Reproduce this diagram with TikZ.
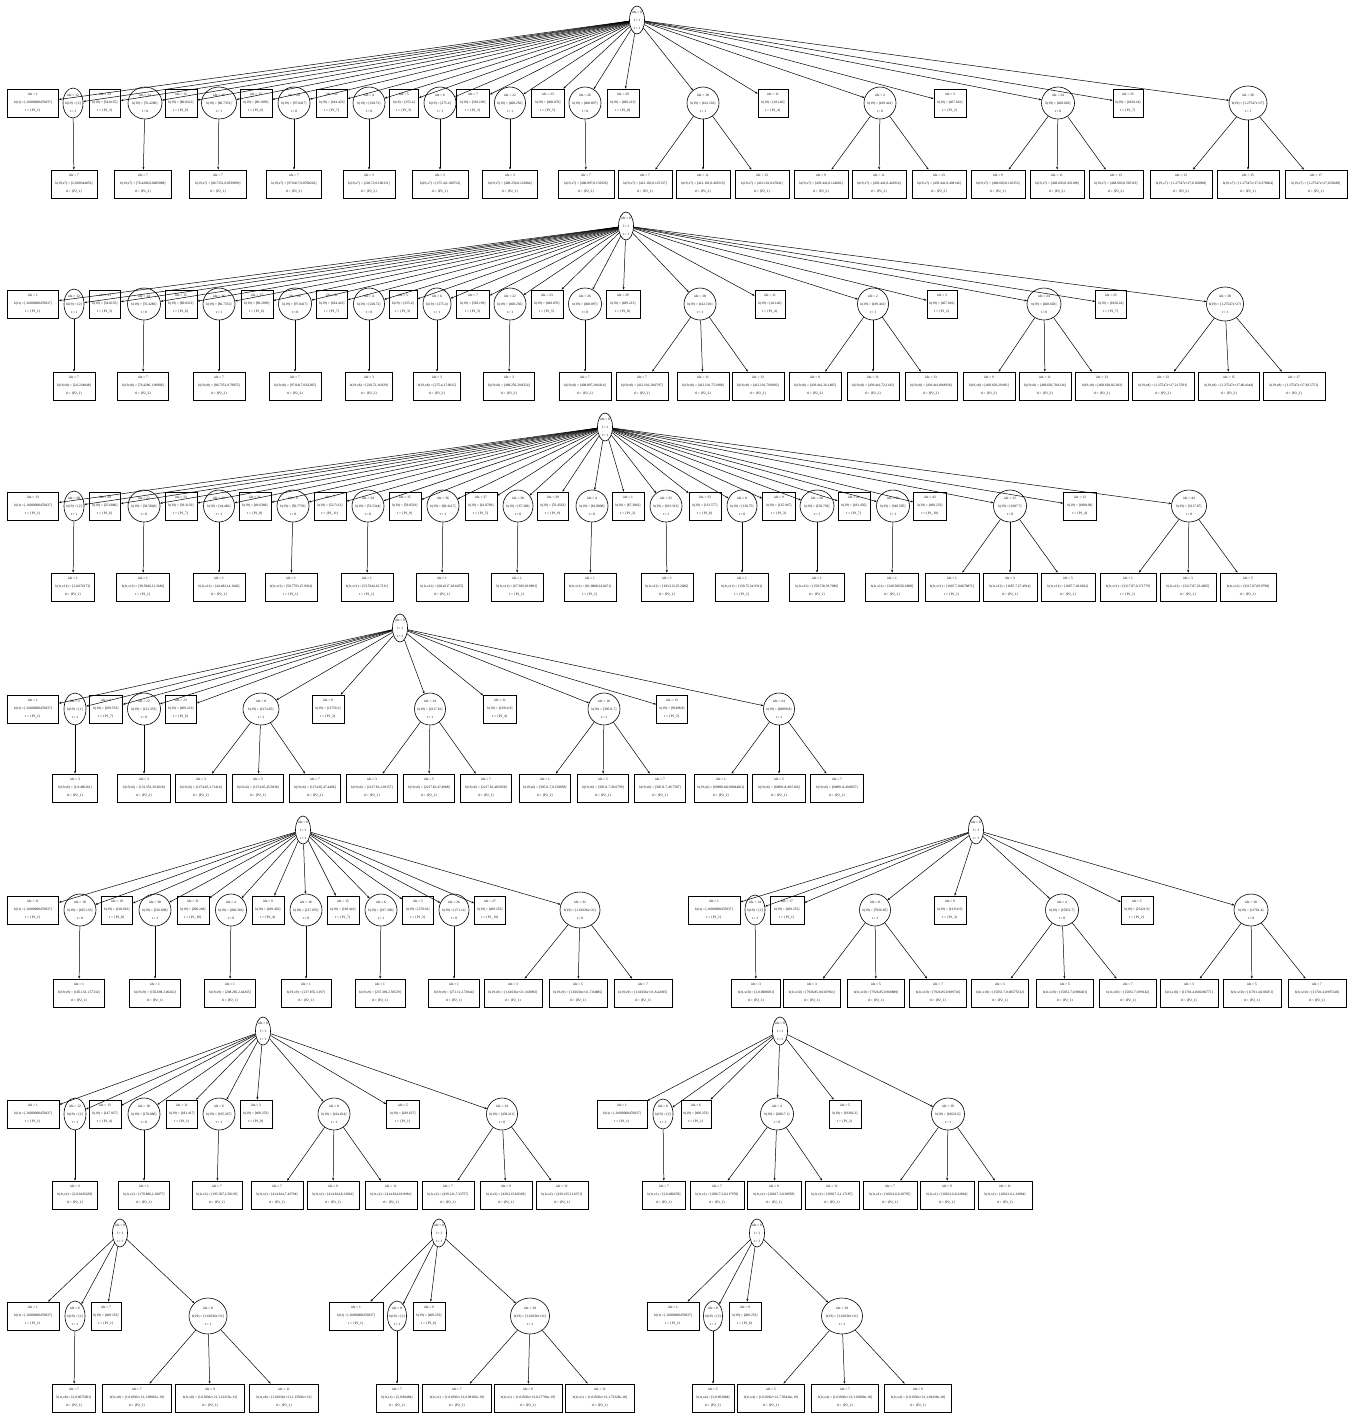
\documentclass[tikz,border=0pt]{standalone}
\usepackage{fontspec}
\setmainfont{Liberation Serif}
\usetikzlibrary{shapes.geometric,arrows.meta}
\tikzset{
 bx/.style={draw,line width=0.8pt,rectangle,inner sep=0pt,minimum height=28,align=center,font=\fontsize{3.5}{8}\selectfont},
 el/.style={draw,line width=0.6pt,ellipse,inner sep=0pt,align=center,font=\fontsize{3.5}{8}\selectfont},
 edg/.style={line width=0.5pt,-{Stealth[length=2.6pt,width=2pt]}},
}
\newcommand\zl[1]{\makebox[0pt]{#1}}
\newcommand\myb[1]{b(19) = [#1]}
\newcommand\myP[1]{t = \{P1\_#1\}}
\newcommand\myQ[1]{tl = \{P2\_#1\}}
\newcommand\RB[7]{\node[bx,minimum width=#4] (#1) at (#3,\ry) {\zl{idx = #5}\\\zl{#6}\\\zl{#7}};\draw[edg] (#2) -- (#1);}
\newcommand\RE[8]{\node[el,minimum width=#4,minimum height=#5] (#1) at (#3,\ry) {\zl{idx = #6}\\\zl{#7}\\\zl{#8}};\draw[edg] (#2) -- (#1);}
\newcommand\LF[7]{\node[bx,minimum width=#4] (#1) at (#3,\ly) {\zl{idx = #5}\\\zl{#6}\\\zl{#7}};\draw[edg] (#2) -- (#1);}
\newcommand\RT[3]{\node[el,minimum width=15,minimum height=28] (#1) at (#2,#3) {\zl{idx = 0}\\\zl{l = 1}\\\zl{t = 1}};}
\newcommand\mfirst{b(1t) = [-0.000000476837]}
\begin{document}
\begin{tikzpicture}[x=1pt,y=-1pt]
\fill[white] (0,0) rectangle (1356,1414);
\useasboundingbox (0,0) rectangle (1356,1414);
% ---------------- Tree 1
\def\ry{103}\def\ly{184}
\RT{ar}{637}{20}
\RB{a1}{ar}{33}{51}{1}{\mfirst}{\myP{1}}
\RE{a2}{ar}{73}{20}{30}{12}{\myb{2}}{t = 1}
\RB{a3}{ar}{105}{31}{13}{\myb{54.8155}}{\myP{3}}
\RE{a4}{ar}{145}{34}{32}{14}{\myb{76.4286}}{t = 0}
\RB{a5}{ar}{181}{32}{15}{\myb{80.8321}}{\myP{6}}
\RE{a6}{ar}{219}{35}{32}{16}{\myb{86.7351}}{t = 1}
\RB{a7}{ar}{256}{32}{17}{\myb{89.2099}}{\myP{6}}
\RE{a8}{ar}{294}{32}{32}{20}{\myb{97.0417}}{t = 0}
\RB{a9}{ar}{332}{31}{21}{\myb{184.423}}{\myP{7}}
\RE{a10}{ar}{369}{32}{32}{4}{\myb{220.72}}{t = 0}
\RB{a11}{ar}{404}{29}{5}{\myb{255.4}}{\myP{3}}
\RE{a12}{ar}{440}{32}{32}{6}{\myb{275.4}}{t = 1}
\RB{a13}{ar}{473}{33}{7}{\myb{330.199}}{\myP{3}}
\RE{a14}{ar}{510}{31}{32}{22}{\myb{408.256}}{t = 1}
\RB{a15}{ar}{548}{33}{23}{\myb{408.876}}{\myP{5}}
\RE{a16}{ar}{585}{32}{32}{26}{\myb{408.897}}{t = 0}
\RB{a17}{ar}{623}{32}{29}{\myb{409.213}}{\myP{8}}
\RE{a18}{ar}{703}{32}{32}{18}{\myb{412.101}}{t = 1}
\RB{a19}{ar}{773}{30}{11}{\myb{421.46}}{\myP{4}}
\RE{a20}{ar}{880}{32}{32}{2}{\myb{439.441}}{t = 0}
\RB{a21}{ar}{950}{32}{3}{\myb{467.601}}{\myP{2}}
\RE{a22}{ar}{1058}{33}{32}{24}{\myb{468.603}}{t = 0}
\RB{a23}{ar}{1128}{30}{25}{\myb{1820.24}}{\myP{7}}
\RE{a24}{ar}{1248}{38}{34}{30}{\myb{1.27547e+27}}{t = 1}
\LF{a2x}{a2}{74}{46}{7}{b(19,x7) = [2,0.00344853]}{\myQ{1}}
\LF{a4x}{a4}{143}{57}{7}{b(19,x7) = [76.4286,0.0485088]}{\myQ{2}}
\LF{a6x}{a6}{218}{57}{7}{b(19,x7) = [86.7351,0.0539893]}{\myQ{1}}
\LF{a8x}{a8}{294}{55}{7}{b(19,x7) = [97.0417,0.0708262]}{\myQ{2}}
\LF{a10x}{a10}{369}{52}{3}{b(19,x7) = [220.72,0.100151]}{\myQ{2}}
\LF{a12x}{a12}{440}{56}{3}{b(19,x7) = [275.4,0.100754]}{\myQ{1}}
\LF{a14x}{a14}{510}{55}{3}{b(19,x7) = [408.256,0.122884]}{\myQ{1}}
\LF{a16x}{a16}{586}{56}{7}{b(19,x7) = [408.897,0.132926]}{\myQ{2}}
\LF{a18x}{a18}{645}{54}{7}{b(19,x7) = [412.101,0.125137]}{\myQ{1}}
\LF{a18y}{a18}{703}{54}{11}{b(19,x7) = [412.101,0.463519]}{\myQ{2}}
\LF{a18z}{a18}{762}{54}{13}{b(19,x7) = [412.101,0.47841]}{\myQ{1}}
\LF{a20x}{a20}{821}{54}{9}{b(19,x7) = [439.441,0.124682]}{\myQ{2}}
\LF{a20y}{a20}{879}{54}{11}{b(19,x7) = [439.441,0.442914]}{\myQ{2}}
\LF{a20z}{a20}{939}{54}{13}{b(19,x7) = [439.441,0.498146]}{\myQ{2}}
\LF{a22x}{a22}{998}{54}{9}{b(19,x7) = [468.603,0.126353]}{\myQ{1}}
\LF{a22y}{a22}{1057}{54}{11}{b(19,x7) = [468.603,0.433188]}{\myQ{2}}
\LF{a22z}{a22}{1116}{54}{13}{b(19,x7) = [468.603,0.505119]}{\myQ{2}}
\LF{a24x}{a24}{1181}{62}{13}{b(19,x7) = [1.27547e+27,0.168968]}{\myQ{2}}
\LF{a24y}{a24}{1248}{62}{15}{b(19,x7) = [1.27547e+27,0.378664]}{\myQ{1}}
\LF{a24z}{a24}{1316}{62}{17}{b(19,x7) = [1.27547e+27,0.58188]}{\myQ{1}}
% ---------------- Tree 2
\def\ry{304}\def\ly{386}
\RT{br}{626}{226}
\RB{b1}{br}{33}{51}{1}{\mfirst}{\myP{1}}
\RE{b2}{br}{74}{20}{30}{12}{\myb{2}}{t = 1}
\RB{b3}{br}{105}{31}{13}{\myb{54.8155}}{\myP{3}}
\RE{b4}{br}{144}{33}{32}{14}{\myb{76.4286}}{t = 0}
\RB{b5}{br}{181}{32}{15}{\myb{80.8321}}{\myP{6}}
\RE{b6}{br}{219}{32}{32}{16}{\myb{86.7351}}{t = 1}
\RB{b7}{br}{257}{32}{17}{\myb{89.2099}}{\myP{6}}
\RE{b8}{br}{295}{33}{32}{20}{\myb{97.0417}}{t = 0}
\RB{b9}{br}{332}{31}{21}{\myb{184.423}}{\myP{7}}
\RE{b10}{br}{369}{31}{32}{4}{\myb{220.72}}{t = 0}
\RB{b11}{br}{403}{28}{5}{\myb{255.4}}{\myP{3}}
\RE{b12}{br}{437}{28}{32}{6}{\myb{275.4}}{t = 1}
\RB{b13}{br}{473}{33}{7}{\myb{330.199}}{\myP{3}}
\RE{b14}{br}{510}{32}{32}{22}{\myb{408.256}}{t = 1}
\RB{b15}{br}{547}{32}{23}{\myb{408.876}}{\myP{5}}
\RE{b16}{br}{585}{33}{32}{26}{\myb{408.897}}{t = 0}
\RB{b17}{br}{623}{34}{29}{\myb{409.213}}{\myP{8}}
\RE{b18}{br}{700}{32}{32}{18}{\myb{412.101}}{t = 1}
\RB{b19}{br}{770}{30}{11}{\myb{421.46}}{\myP{4}}
\RE{b20}{br}{873}{31}{32}{2}{\myb{439.441}}{t = 1}
\RB{b21}{br}{942}{30}{3}{\myb{467.601}}{\myP{2}}
\RE{b22}{br}{1044}{34}{32}{24}{\myb{468.603}}{t = 0}
\RB{b23}{br}{1111}{31}{25}{\myb{1820.24}}{\myP{7}}
\RE{b24}{br}{1225}{37}{34}{30}{\myb{1.27547e+27}}{t = 1}
\LF{b2x}{b2}{74}{42}{7}{b(19,x8) = [2,0.234848]}{\myQ{2}}
\LF{b4x}{b4}{143}{51}{7}{b(19,x8) = [76.4286,1.90906]}{\myQ{2}}
\LF{b6x}{b6}{219}{52}{7}{b(19,x8) = [86.7351,0.79855]}{\myQ{2}}
\LF{b8x}{b8}{295}{52}{7}{b(19,x8) = [97.0417,0.62285]}{\myQ{2}}
\LF{b10x}{b10}{369}{47}{3}{b(19,x8) = [220.72,16.829]}{\myQ{2}}
\LF{b12x}{b12}{437}{47}{3}{b(19,x8) = [275.4,17.0015]}{\myQ{2}}
\LF{b14x}{b14}{509}{51}{3}{b(19,x8) = [408.256,29.8354]}{\myQ{2}}
\LF{b16x}{b16}{585}{52}{7}{b(19,x8) = [408.897,28.0414]}{\myQ{2}}
\LF{b18x}{b18}{642}{52}{7}{b(19,x8) = [412.101,20.0797]}{\myQ{2}}
\LF{b18y}{b18}{703}{52}{11}{b(19,x8) = [412.101,75.2988]}{\myQ{2}}
\LF{b18z}{b18}{758}{52}{13}{b(19,x8) = [412.101,79.0082]}{\myQ{2}}
\LF{b20x}{b20}{815}{52}{9}{b(19,x8) = [439.441,26.1485]}{\myQ{2}}
\LF{b20y}{b20}{873}{52}{11}{b(19,x8) = [439.441,72.2143]}{\myQ{2}}
\LF{b20z}{b20}{931}{52}{13}{b(19,x8) = [439.441,80.8934]}{\myQ{2}}
\LF{b22x}{b22}{989}{52}{9}{b(19,x8) = [468.603,29.001]}{\myQ{2}}
\LF{b22y}{b22}{1045}{52}{11}{b(19,x8) = [468.603,70.8134]}{\myQ{2}}
\LF{b22z}{b22}{1102}{53}{13}{b(19,x8) = [468.603,82.383]}{\myQ{2}}
\LF{b24x}{b24}{1163}{62}{13}{b(19,x8) = [1.27547e+27,21.5591]}{\myQ{2}}
\LF{b24y}{b24}{1229}{61}{15}{b(19,x8) = [1.27547e+27,80.4344]}{\myQ{2}}
\LF{b24z}{b24}{1294}{62}{17}{b(19,x8) = [1.27547e+27,83.5751]}{\myQ{2}}
% ---------------- Tree 3
\def\ry{506}\def\ly{587}
\RT{cr}{605}{427}
\RB{c1}{cr}{33}{51}{13}{\mfirst}{\myP{1}}
\RE{c2}{cr}{74}{20}{30}{28}{\myb{2}}{t = 1}
\RB{c3}{cr}{105}{31}{29}{\myb{25.6886}}{\myP{6}}
\RE{c4}{cr}{144}{32}{32}{22}{\myb{38.5848}}{t = 0}
\RB{c5}{cr}{181}{32}{23}{\myb{39.3132}}{\myP{7}}
\RE{c6}{cr}{219}{31}{32}{30}{\myb{44.482}}{t = 1}
\RB{c7}{cr}{255}{32}{31}{\myb{49.6368}}{\myP{8}}
\RE{c8}{cr}{293}{32}{32}{6}{\myb{50.7793}}{t = 0}
\RB{c9}{cr}{330}{32}{7}{\myb{52.7112}}{\myP{11}}
\RE{c10}{cr}{368}{32}{32}{34}{\myb{53.5344}}{t = 0}
\RB{c11}{cr}{405}{32}{35}{\myb{59.0519}}{\myP{9}}
\RE{c12}{cr}{443}{32}{32}{36}{\myb{60.4217}}{t = 1}
\RB{c13}{cr}{481}{32}{37}{\myb{61.0769}}{\myP{5}}
\RE{c14}{cr}{518}{30}{32}{38}{\myb{67.309}}{t = 0}
\RB{c15}{cr}{553}{31}{39}{\myb{76.4563}}{\myP{9}}
\RE{c16}{cr}{592}{32}{32}{4}{\myb{81.0808}}{t = 0}
\RB{c17}{cr}{628}{32}{1}{\myb{87.3062}}{\myP{2}}
\RE{c18}{cr}{666}{32}{32}{32}{\myb{103.313}}{t = 1}
\RB{c19}{cr}{705}{32}{33}{\myb{113.577}}{\myP{8}}
\RE{c20}{cr}{742}{30}{32}{8}{\myb{130.75}}{t = 0}
\RB{c21}{cr}{779}{33}{9}{\myb{135.947}}{\myP{3}}
\RE{c22}{cr}{817}{34}{32}{20}{\myb{158.738}}{t = 1}
\RB{c23}{cr}{854}{32}{21}{\myb{181.456}}{\myP{7}}
\RE{c24}{cr}{893}{33}{32}{42}{\myb{349.505}}{t = 1}
\RB{c25}{cr}{930}{33}{43}{\myb{409.253}}{\myP{10}}
\RE{c26}{cr}{1010}{33}{32}{12}{\myb{1687.7}}{t = 0}
\RB{c27}{cr}{1080}{33}{13}{\myb{1808.98}}{\myP{4}}
\RE{c28}{cr}{1189}{35}{32}{44}{\myb{3217.87}}{t = 0}
\LF{c2x}{c2}{73}{43}{1}{b(1t,x11) = [2,0.676173]}{\myQ{1}}
\LF{c4x}{c4}{143}{53}{1}{b(1t,x11) = [38.5846,11.3186]}{\myP{1}}
\LF{c6x}{c6}{219}{52}{1}{b(1t,x12) = [44.482,14.1646]}{\myQ{1}}
\LF{c8x}{c8}{291}{52}{1}{b(1t,x11) = [50.7793,15.9364]}{\myP{1}}
\LF{c10x}{c10}{367}{52}{1}{b(1t,x11) = [53.5344,16.7111]}{\myP{1}}
\LF{c12x}{c12}{442}{52}{1}{b(1t,x12) = [60.4217,18.6455]}{\myQ{1}}
\LF{c14x}{c14}{517}{52}{1}{b(1t,x11) = [67.309,20.9891]}{\myP{1}}
\LF{c16x}{c16}{590}{52}{1}{b(1t,x11) = [81.0808,24.0471]}{\myP{1}}
\LF{c18x}{c18}{667}{52}{1}{b(1t,x12) = [103.313,25.2686]}{\myQ{1}}
\LF{c20x}{c20}{742}{53}{1}{b(1t,x11) = [130.75,34.9311]}{\myP{1}}
\LF{c22x}{c22}{817}{55}{1}{b(1t,x12) = [158.738,39.7086]}{\myQ{1}}
\LF{c24x}{c24}{892}{53}{1}{b(1t,x11) = [349.509,56.6808]}{\myQ{1}}
\LF{c26x}{c26}{952}{54}{1}{b(1t,x11) = [1687.7,0.0678871]}{\myP{1}}
\LF{c26y}{c26}{1010}{54}{3}{b(1t,x12) = [1687.7,27.4914]}{\myQ{1}}
\LF{c26z}{c26}{1068}{54}{5}{b(1t,x11) = [1687.7,49.6822]}{\myQ{1}}
\LF{c28x}{c28}{1128}{56}{1}{b(1t,x11) = [3217.87,0.171779]}{\myP{1}}
\LF{c28y}{c28}{1188}{56}{3}{b(1t,x12) = [3217.87,23.4695]}{\myQ{1}}
\LF{c28z}{c28}{1248}{56}{5}{b(1t,x11) = [3217.87,69.9798]}{\myQ{1}}
% ---------------- Tree 4
\def\ry{709}\def\ly{788}
\RT{dr}{400}{628}
\RB{d1}{dr}{33}{51}{1}{\mfirst}{\myP{1}}
\RE{d2}{dr}{75}{22}{32}{2}{\myb{1}}{t = 1}
\RB{d3}{dr}{106}{33}{3}{\myb{109.553}}{\myP{7}}
\RE{d4}{dr}{144}{33}{32}{22}{\myb{131.353}}{t = 0}
\RB{d5}{dr}{181}{31}{23}{\myb{409.213}}{\myP{6}}
\RE{d6}{dr}{261}{36}{32}{8}{\myb{1274.65}}{t = 1}
\RB{d7}{dr}{328}{32}{9}{\myb{11759.2}}{\myP{3}}
\RE{d8}{dr}{430}{31}{32}{14}{\myb{2217.81}}{t = 1}
\RB{d9}{dr}{500}{33}{11}{\myb{12914.9}}{\myP{4}}
\RE{d10}{dr}{604}{32}{32}{18}{\myb{30511.7}}{t = 1}
\RB{d11}{dr}{672}{31}{13}{\myb{95498.8}}{\myP{5}}
\RE{d12}{dr}{779}{31}{32}{24}{\myb{60890.8}}{t = 1}
\LF{d2x}{d2}{75}{45}{3}{b(19,x6) = [1,0.486161]}{\myQ{1}}
\LF{d4x}{d4}{144}{53}{3}{b(19,x6) = [131.353,39.3618]}{\myQ{2}}
\LF{d6x}{d6}{201}{51}{3}{b(19,x6) = [1274.65,3.71414]}{\myQ{1}}
\LF{d6y}{d6}{258}{51}{5}{b(19,x6) = [1274.65,45.5838]}{\myQ{1}}
\LF{d6z}{d6}{315}{51}{7}{b(19,x6) = [1274.65,47.4406]}{\myQ{2}}
\LF{d8x}{d8}{372}{51}{3}{b(19,x6) = [2217.81,2.03157]}{\myQ{1}}
\LF{d8y}{d8}{429}{51}{5}{b(19,x6) = [2217.81,47.4988]}{\myQ{1}}
\LF{d8z}{d8}{486}{51}{7}{b(19,x6) = [2217.81,48.5058]}{\myQ{1}}
\LF{d10x}{d10}{545}{51}{1}{b(19,x6) = [30511.7,0.158858]}{\myQ{1}}
\LF{d10y}{d10}{603}{51}{5}{b(19,x6) = [30511.7,49.6799]}{\myQ{1}}
\LF{d10z}{d10}{660}{51}{7}{b(19,x6) = [30511.7,49.7587]}{\myQ{1}}
\LF{d12x}{d12}{721}{53}{1}{b(19,x6) = [60890.8,0.00944811]}{\myQ{1}}
\LF{d12y}{d12}{779}{53}{5}{b(19,x6) = [60891.8,49.5166]}{\myQ{1}}
\LF{d12z}{d12}{837}{53}{7}{b(19,x6) = [60891.8,49.8857]}{\myQ{1}}
% ---------------- Tree 5
\def\ry{910}\def\ly{993}
\RT{er}{303}{830}
\RB{e1}{er}{33}{51}{11}{\mfirst}{\myP{1}}
\RE{e2}{er}{80}{32}{32}{18}{\myb{105.133}}{t = 0}
\RB{e3}{er}{117}{31}{19}{\myb{128.661}}{\myP{8}}
\RE{e4}{er}{155}{32}{32}{38}{\myb{156.698}}{t = 1}
\RB{e5}{er}{193}{32}{31}{\myb{208.248}}{\myP{10}}
\RE{e6}{er}{231}{31}{32}{4}{\myb{208.301}}{t = 0}
\RB{e7}{er}{268}{32}{9}{\myb{209.463}}{\myP{4}}
\RE{e8}{er}{306}{32}{32}{16}{\myb{217.876}}{t = 0}
\RB{e9}{er}{343}{32}{15}{\myb{218.441}}{\myP{7}}
\RE{e10}{er}{381}{32}{32}{6}{\myb{237.396}}{t = 1}
\RB{e11}{er}{418}{31}{5}{\myb{270.01}}{\myP{3}}
\RE{e12}{er}{454}{30}{32}{26}{\myb{271.11}}{t = 0}
\RB{e13}{er}{490}{31}{27}{\myb{409.253}}{\myP{19}}
\RE{e14}{er}{580}{40}{36}{32}{\myb{1.61036e+21}}{t = 0}
\LF{e2x}{e2}{79}{51}{1}{b(19,x9) = [105.133,1.57132]}{\myQ{1}}
\LF{e4x}{e4}{155}{51}{1}{b(19,x9) = [156.698,2.06262]}{\myQ{1}}
\LF{e6x}{e6}{230}{51}{1}{b(19,x9) = [208.285,2.44265]}{\myQ{1}}
\LF{e8x}{e8}{306}{50}{1}{b(19,x9) = [217.876,3.197]}{\myQ{1}}
\LF{e10x}{e10}{380}{50}{1}{b(19,x9) = [237.396,2.59529]}{\myQ{1}}
\LF{e12x}{e12}{454}{51}{1}{b(19,x9) = [271.11,2.73844]}{\myQ{1}}
\LF{e14x}{e14}{513}{58}{3}{b(19,x9) = [1.61036e+21,3.60983]}{\myQ{1}}
\LF{e14y}{e14}{578}{58}{5}{b(19,x9) = [1.61036e+21,7.04885]}{\myQ{1}}
\LF{e14z}{e14}{643}{58}{7}{b(19,x9) = [1.61036e+21,8.42495]}{\myQ{1}}
% ---------------- Tree 6
\RT{fr}{976}{830}
\RB{f1}{fr}{714}{52}{1}{\mfirst}{\myP{1}}
\RE{f2}{fr}{755}{20}{30}{14}{\myb{2}}{t = 1}
\RB{f3}{fr}{787}{34}{17}{\myb{409.253}}{\myP{1}}
\RE{f4}{fr}{875}{31}{32}{8}{\myb{7926.85}}{t = 1}
\RB{f5}{fr}{950}{32}{9}{\myb{12314.9}}{\myP{3}}
\RE{f6}{fr}{1062}{33}{32}{4}{\myb{15051.7}}{t = 0}
\RB{f7}{fr}{1137}{32}{5}{\myb{25421.9}}{\myP{2}}
\RE{f8}{fr}{1251}{34}{32}{18}{\myb{11701.4}}{t = 0}
\LF{f2x}{f2}{756}{49}{3}{b(1t,x10) = [2,0.0080031]}{\myQ{1}}
\LF{f4x}{f4}{812}{57}{3}{b(1t,x10) = [7926.85,0.0107961]}{\myQ{1}}
\LF{f4y}{f4}{876}{57}{5}{b(1t,x10) = [7926.85,0.968889]}{\myQ{1}}
\LF{f4z}{f4}{938}{57}{7}{b(1t,x10) = [7926.85,0.989716]}{\myQ{1}}
\LF{f6x}{f6}{1000}{57}{3}{b(1t,x10) = [15051.7,0.00575332]}{\myQ{1}}
\LF{f6y}{f6}{1065}{57}{5}{b(1t,x10) = [15051.7,0.986401]}{\myQ{1}}
\LF{f6z}{f6}{1128}{57}{7}{b(1t,x10) = [15051.7,0.99142]}{\myQ{1}}
\LF{f8x}{f8}{1189}{58}{3}{b(1t,x10) = [11701.4,0.00260771]}{\myQ{1}}
\LF{f8y}{f8}{1252}{58}{5}{b(1t,x10) = [11701.4,0.06071]}{\myQ{1}}
\LF{f8z}{f8}{1317}{58}{7}{b(1t,x10) = [11701.4,0.997248]}{\myQ{1}}
% ---------------- Tree 7
\def\ry{1114}\def\ly{1195}
\RT{gr}{263}{1031}
\RB{g1}{gr}{33}{52}{1}{\mfirst}{\myP{1}}
\RE{g2}{gr}{75}{22}{32}{12}{\myb{2}}{t = 1}
\RB{g3}{gr}{105}{32}{13}{\myb{147.927}}{\myP{4}}
\RE{g4}{gr}{144}{32}{32}{10}{\myb{170.886}}{t = 0}
\RB{g5}{gr}{182}{31}{11}{\myb{181.417}}{\myP{1}}
\RE{g6}{gr}{219}{32}{32}{6}{\myb{195.267}}{t = 1}
\RB{g7}{gr}{256}{32}{3}{\myb{409.253}}{\myP{8}}
\RE{g8}{gr}{334}{32}{32}{8}{\myb{414.814}}{t = 1}
\RB{g9}{gr}{403}{33}{5}{\myb{429.627}}{\myP{1}}
\RE{g10}{gr}{502}{31}{32}{14}{\myb{439.211}}{t = 0}
\LF{g2x}{g2}{75}{45}{3}{b(1t,x2) = [2,0.0145439]}{\myQ{1}}
\LF{g4x}{g4}{144}{51}{1}{b(1t,x2) = [170.886,2.10077]}{\myQ{1}}
\LF{g6x}{g6}{217}{50}{7}{b(1t,x2) = [195.307,2.58139]}{\myQ{1}}
\LF{g8x}{g8}{277}{52}{7}{b(1t,x2) = [414.814,7.43794]}{\myQ{1}}
\LF{g8y}{g8}{333}{52}{9}{b(1t,x2) = [414.814,8.13001]}{\myQ{1}}
\LF{g8z}{g8}{391}{52}{11}{b(1t,x2) = [414.814,10.0981]}{\myQ{1}}
\LF{g10x}{g10}{448}{52}{7}{b(1t,x2) = [439.211,7.33757]}{\myQ{1}}
\LF{g10y}{g10}{506}{52}{9}{b(1t,x2) = [439.213,8.0328]}{\myQ{1}}
\LF{g10z}{g10}{562}{52}{11}{b(1t,x2) = [439.215,11.6371]}{\myQ{1}}
% ---------------- Tree 8
\RT{hr}{780}{1031}
\RB{h1}{hr}{622}{50}{1}{\mfirst}{\myP{1}}
\RE{h2}{hr}{663}{20}{30}{8}{\myb{2}}{t = 1}
\RB{h3}{hr}{696}{30}{6}{\myb{409.253}}{\myP{1}}
\RE{h4}{hr}{777}{33}{32}{4}{\myb{20017.1}}{t = 0}
\RB{h5}{hr}{845}{32}{5}{\myb{19266.3}}{\myP{2}}
\RE{h6}{hr}{948}{33}{32}{10}{\myb{16621.6}}{t = 1}
\LF{h2x}{h2}{664}{43}{7}{b(1t,x1) = [2,0.486678]}{\myQ{1}}
\LF{h4x}{h4}{717}{54}{7}{b(1t,x1) = [20017.3,0.217978]}{\myQ{1}}
\LF{h4y}{h4}{774}{54}{9}{b(1t,x1) = [20017.3,0.30958]}{\myQ{1}}
\LF{h4z}{h4}{832}{54}{11}{b(1t,x1) = [20017.3,1.17187]}{\myQ{1}}
\LF{h6x}{h6}{890}{54}{7}{b(1t,x1) = [16621.6,0.10795]}{\myQ{1}}
\LF{h6y}{h6}{947}{54}{9}{b(1t,x1) = [16621.6,0.22864]}{\myQ{1}}
\LF{h6z}{h6}{1005}{54}{11}{b(1t,x1) = [16621.6,1.34904]}{\myQ{1}}
% ---------------- Tree 9
\def\ry{1316}\def\ly{1398}
\RT{ir}{120}{1233}
\RB{i1}{ir}{33}{52}{1}{\mfirst}{\myP{1}}
\RE{i2}{ir}{75}{20}{30}{6}{\myb{2}}{t = 1}
\RB{i3}{ir}{106}{30}{7}{\myb{409.253}}{\myP{1}}
\RE{i4}{ir}{208}{38}{36}{8}{\myb{1.61036e+21}}{t = 1}
\LF{i2x}{i2}{74}{43}{7}{b(1t,x8) = [2,0.0075061]}{\myQ{1}}
\LF{i4x}{i4}{137}{69}{7}{b(1t,x8) = [1.61036e+21,1.09061e-19]}{\myQ{1}}
\LF{i4y}{i4}{210}{69}{9}{b(1t,x8) = [1.61036e+21,1.12219e-13]}{\myQ{1}}
\LF{i4z}{i4}{284}{69}{11}{b(1t,x8) = [1.61036e+21,1.15036e+21]}{\myQ{1}}
% ---------------- Tree 10
\RT{jr}{439}{1233}
\RB{j1}{jr}{356}{54}{1}{\mfirst}{\myP{1}}
\RE{j2}{jr}{397}{19}{30}{8}{\myb{2}}{t = 1}
\RB{j3}{jr}{429}{32}{9}{\myb{409.253}}{\myP{6}}
\RE{j4}{jr}{530}{39}{36}{10}{\myb{1.61036e+21}}{t = 1}
\LF{j2x}{j2}{397}{42}{7}{b(1t,x1) = [2,0.90484]}{\myQ{1}}
\LF{j4x}{j4}{457}{69}{7}{b(1t,x1) = [1.61036e+21,6.98183e-19]}{\myQ{1}}
\LF{j4y}{j4}{528}{68}{9}{b(1t,x1) = [1.61036e+21,8.27794e-19]}{\myQ{1}}
\LF{j4z}{j4}{600}{69}{11}{b(1t,x1) = [1.61036e+21,1.73328e-18]}{\myQ{1}}
% ---------------- Tree 11
\RT{kr}{757}{1233}
\RB{k1}{kr}{673}{52}{1}{\mfirst}{\myP{1}}
\RE{k2}{kr}{713}{19}{30}{8}{\myb{2}}{t = 1}
\RB{k3}{kr}{745}{32}{9}{\myb{409.253}}{\myP{6}}
\RE{k4}{kr}{842}{41}{36}{10}{\myb{1.61036e+21}}{t = 1}
\LF{k2x}{k2}{713}{42}{5}{b(1t,x4) = [2,0.901084]}{\myQ{1}}
\LF{k4x}{k4}{771}{67}{5}{b(1t,x4) = [1.61036e+21,7.50434e-19]}{\myQ{1}}
\LF{k4y}{k4}{845}{67}{7}{b(1t,x4) = [1.61036e+21,1.16000e-18]}{\myQ{1}}
\LF{k4z}{k4}{918}{67}{9}{b(1t,x4) = [1.61036e+21,1.49438e-18]}{\myQ{1}}
\end{tikzpicture}
\end{document}
